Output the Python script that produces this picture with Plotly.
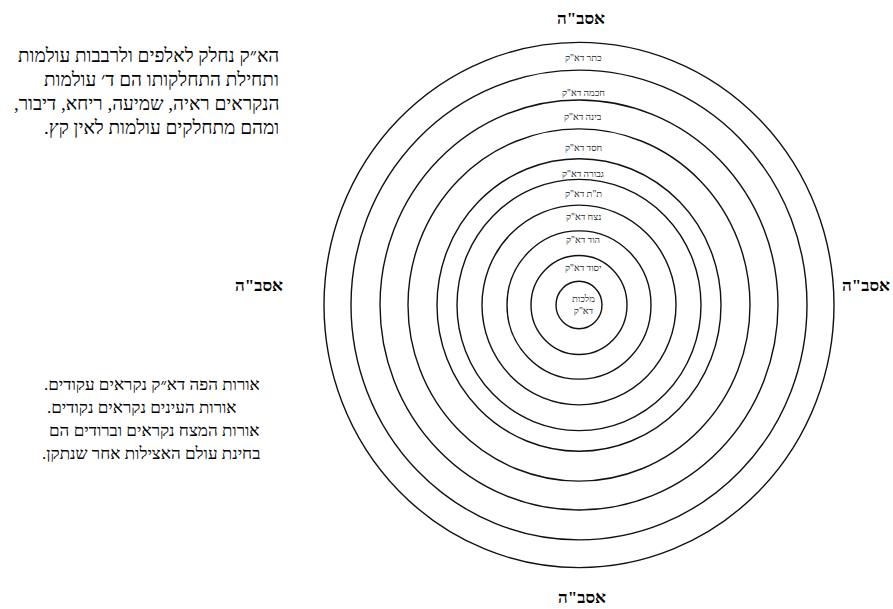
import plotly.graph_objects as go

W, H = 893, 609

# ---- data ----
center_x, center_y = 579, 305
ring_radius = [255, 228, 199, 171, 142, 122, 97, 72, 48, 23]
ring_stretch = 1.03  # vertical / horizontal

ring_labels = ['כתר דא"ק', 'חכמה דא"ק', 'בינה דא"ק', 'חסד דא"ק', 'גבורה דא"ק',
               'ת"ת דא"ק', 'נצח דא"ק', 'הוד דא"ק', 'יסוד דא"ק', 'מלכות<br>דא"ק']
ring_label_y = [58, 93, 117, 148, 174, 194, 217, 240, 268, 305]

direction_label = 'אסב"ה'
direction_pos = [(581, 18), (582, 597), (259, 285), (866, 285)]

para1 = ['הא״ק נחלק לאלפים ולרבבות עולמות',
         'ותחילת התחלקותו הם ד׳ עולמות',
         'הנקראים ראיה, שמיעה, ריחא, דיבור,\u200f',
         'ומהם מתחלקים עולמות לאין קץ.\u200f']
para1_y = [55, 79, 103, 127]

para2 = ['אורות הפה דא״ק נקראים עקודים.\u200f',
         'אורות העינים נקראים נקודים.\u200f',
         'אורות המצח נקראים וברודים הם',
         'בחינת עולם האצילות אחר שנתקן.\u200f']
para2_y = [384, 407, 430, 453]

FONT = "Liberation Serif"

fig = go.Figure()
fig.add_trace(go.Scatter(x=[0, W], y=[0, H], mode="markers",
                         marker=dict(opacity=0), hoverinfo="skip", showlegend=False))

shapes = []
for r in ring_radius:
    ry = r * ring_stretch
    shapes.append(dict(type="circle", xref="x", yref="y",
                       x0=center_x - r, x1=center_x + r,
                       y0=center_y - ry, y1=center_y + ry,
                       line=dict(color="#111", width=1.4), fillcolor="rgba(0,0,0,0)"))

ann = []
for t, y in zip(ring_labels, ring_label_y):
    ann.append(dict(x=center_x + 4, y=y, text=t, showarrow=False, xanchor="center",
                    yanchor="middle", font=dict(family=FONT, size=9.5, color="#222")))
for (x, y) in direction_pos:
    ann.append(dict(x=x, y=y, text="<b>" + direction_label + "</b>", showarrow=False,
                    xanchor="center", yanchor="middle",
                    font=dict(family=FONT, size=17, color="#000")))
for t, y in zip(para1, para1_y):
    ann.append(dict(x=281, y=y, text=t, showarrow=False, xanchor="right", yanchor="middle",
                    font=dict(family=FONT, size=19, color="#000")))
for i, (t, y) in enumerate(zip(para2, para2_y)):
    if i == 1:
        ann.append(dict(x=45, y=y, text=t, showarrow=False, xanchor="left", yanchor="middle",
                        font=dict(family=FONT, size=17, color="#000")))
    else:
        ann.append(dict(x=262, y=y, text=t, showarrow=False, xanchor="right", yanchor="middle",
                        font=dict(family=FONT, size=17, color="#000")))

fig.update_layout(
    width=W, height=H, margin=dict(l=0, r=0, t=0, b=0),
    paper_bgcolor="white", plot_bgcolor="white",
    xaxis=dict(range=[0, W], visible=False, fixedrange=True),
    yaxis=dict(range=[H, 0], visible=False, fixedrange=True),
    shapes=shapes, annotations=ann, showlegend=False,
)
fig.write_html("out.html", config={"displayModeBar": False},
               post_script="document.body.style.margin='0';document.body.style.overflow='hidden';")
